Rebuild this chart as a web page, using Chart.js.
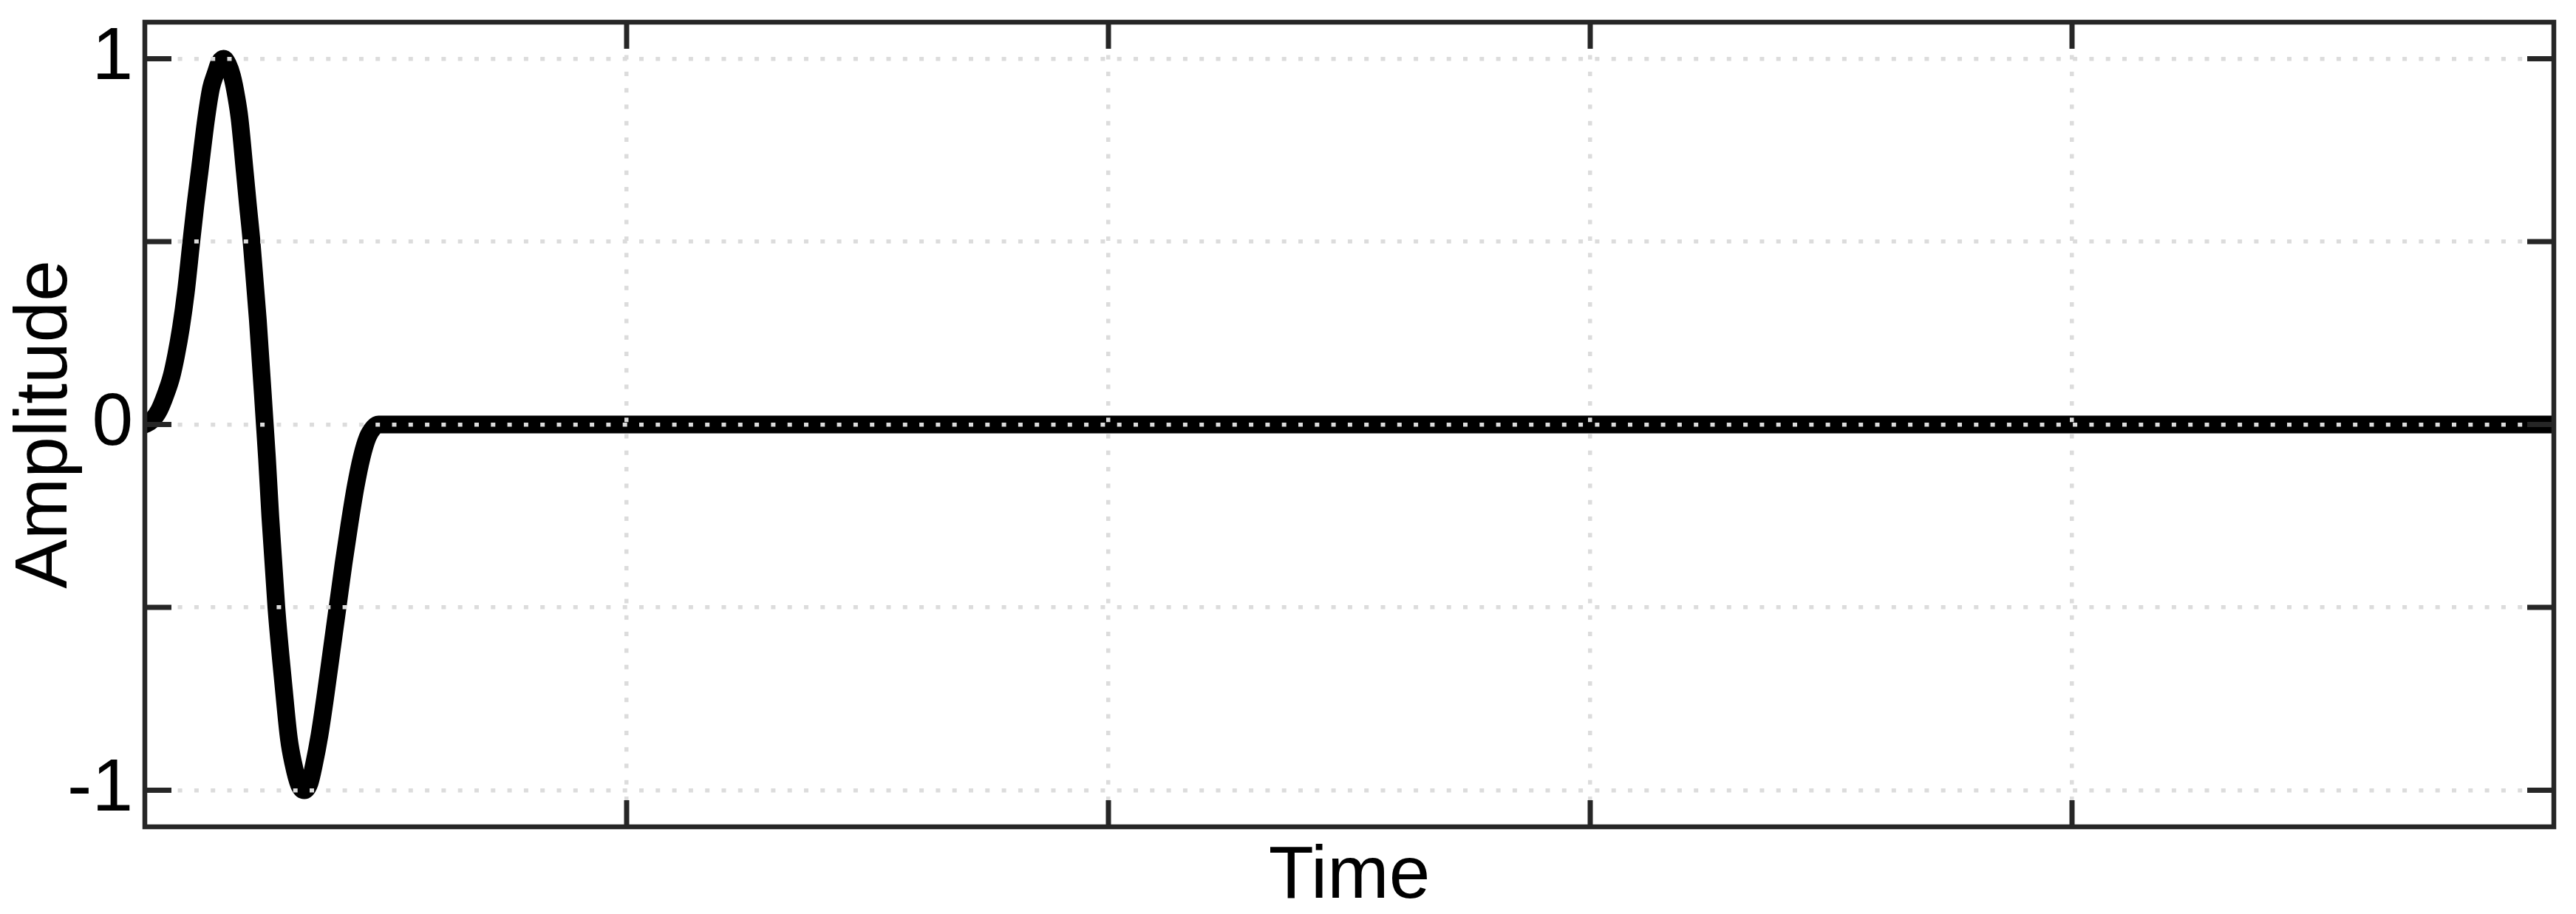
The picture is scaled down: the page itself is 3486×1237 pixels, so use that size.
<!DOCTYPE html>
<html>
<head>
<meta charset="utf-8">
<script src="https://cdn.jsdelivr.net/npm/chart.js@4.4.1/dist/chart.umd.min.js"></script>
<style>
  html, body { margin: 0; padding: 0; background: #fff; overflow: hidden; }
</style>
</head>
<body>
<canvas id="waveChart" width="3486" height="1237"></canvas>
<script>
// values (time as fraction of the full axis)
var timeValues = [0, 0.003, 0.006, 0.0085, 0.011, 0.013, 0.015, 0.017, 0.0193, 0.021,
  0.0227, 0.0255, 0.0275, 0.0294, 0.031, 0.0327, 0.0345, 0.0362, 0.038, 0.0393,
  0.0415, 0.0428, 0.0443, 0.0469, 0.0498, 0.0507, 0.0521, 0.0546, 0.0577, 0.0598,
  0.0616, 0.064, 0.0662, 0.0684, 0.0702, 0.0725, 0.075, 0.0775, 0.08, 0.0825,
  0.085, 0.0875, 0.09, 0.0925, 0.095, 0.097, 0.2, 0.4, 0.6, 0.8, 1.0];
var amplitudeValues = [0, 0.012, 0.04, 0.08, 0.13, 0.19, 0.265, 0.36, 0.5, 0.6,
  0.69, 0.838, 0.92, 0.96, 0.99, 1.0, 0.985, 0.953, 0.895, 0.838,
  0.69, 0.6, 0.5, 0.287, 0, -0.091, -0.253, -0.5, -0.724, -0.859,
  -0.926, -0.985, -1.0, -0.98, -0.93, -0.85, -0.74, -0.62, -0.5, -0.38,
  -0.27, -0.17, -0.09, -0.035, -0.008, 0, 0, 0, 0, 0, 0];
var xTickValues = [0.2, 0.4, 0.6, 0.8];
var yTickValues = [-1, -0.5, 0, 0.5, 1];
var yLabelValues = [-1, 0, 1];

var frameColor = '#262626';
var gridColor = '#dcdcdc';

var points = timeValues.map(function (t, i) {
  return { x: t, y: amplitudeValues[i] };
});

// matlab style box: frame plus inward tick marks on all four sides
var boxPlugin = {
  id: 'box',
  afterDraw: function (chart) {
    var a = chart.chartArea;
    var c = chart.ctx;
    var xs = chart.scales.x;
    var ys = chart.scales.y;
    c.save();
    c.strokeStyle = frameColor;
    c.setLineDash([]);
    c.lineWidth = 7;
    c.beginPath();
    xs.ticks.forEach(function (t) {
      var px = xs.getPixelForValue(t.value);
      c.moveTo(px, a.bottom); c.lineTo(px, a.bottom - 36);
      c.moveTo(px, a.top); c.lineTo(px, a.top + 36);
    });
    ys.ticks.forEach(function (t) {
      var py = ys.getPixelForValue(t.value);
      c.moveTo(a.left, py); c.lineTo(a.left + 36, py);
      c.moveTo(a.right, py); c.lineTo(a.right - 36, py);
    });
    c.stroke();
    c.lineWidth = 6.5;
    c.strokeRect(a.left, a.top, a.right - a.left, a.bottom - a.top);
    c.restore();
  }
};

Chart.defaults.font.family = "'Liberation Sans', Arial, sans-serif";
Chart.defaults.font.size = 100;
Chart.defaults.color = '#000';

var ctx = document.getElementById('waveChart').getContext('2d');
var waveChart = new Chart(ctx, {
  type: 'line',
  data: {
    datasets: [{
      label: 'Amplitude',
      data: points,
      borderColor: '#000',
      borderWidth: 24,
      borderJoinStyle: 'round',
      borderCapStyle: 'round',
      cubicInterpolationMode: 'monotone',
      pointRadius: 0,
      fill: false,
      clip: 0
    }]
  },
  options: {
    responsive: false,
    animation: false,
    layout: { padding: { left: 0, top: 30, right: 30, bottom: 0 } },
    plugins: {
      legend: { display: false },
      tooltip: { enabled: false }
    },
    scales: {
      x: {
        type: 'linear',
        min: 0,
        max: 1,
        afterBuildTicks: function (s) {
          s.ticks = xTickValues.map(function (v) { return { value: v }; });
        },
        afterFit: function (s) {
          s.height = 118;
          s.paddingLeft = 0;
          s.paddingRight = 0;
        },
        ticks: { display: false },
        grid: { color: gridColor, lineWidth: 5.5, drawTicks: false, z: 1 },
        border: { display: false, dash: [6, 16.3] },
        title: {
          display: true,
          text: 'Time',
          color: '#000',
          font: { size: 100, lineHeight: 1 },
          padding: { top: 0, bottom: 0 }
        }
      },
      y: {
        min: -1.1,
        max: 1.1,
        afterBuildTicks: function (s) {
          s.ticks = yTickValues.map(function (v) { return { value: v }; });
        },
        afterFit: function (s) {
          s.width = 196;
          s.paddingTop = 0;
          s.paddingBottom = 0;
        },
        ticks: {
          padding: 16,
          color: '#000',
          callback: function (v) {
            return yLabelValues.indexOf(v) >= 0 ? String(v) : '';
          }
        },
        grid: { color: gridColor, lineWidth: 5.5, drawTicks: false, z: 1 },
        border: { display: false, dash: [6, 16.3] },
        title: {
          display: true,
          text: 'Amplitude',
          color: '#000',
          font: { size: 100, lineHeight: 1 },
          padding: { top: 12, bottom: 0 }
        }
      }
    }
  },
  plugins: [boxPlugin]
});
</script>
</body>
</html>
